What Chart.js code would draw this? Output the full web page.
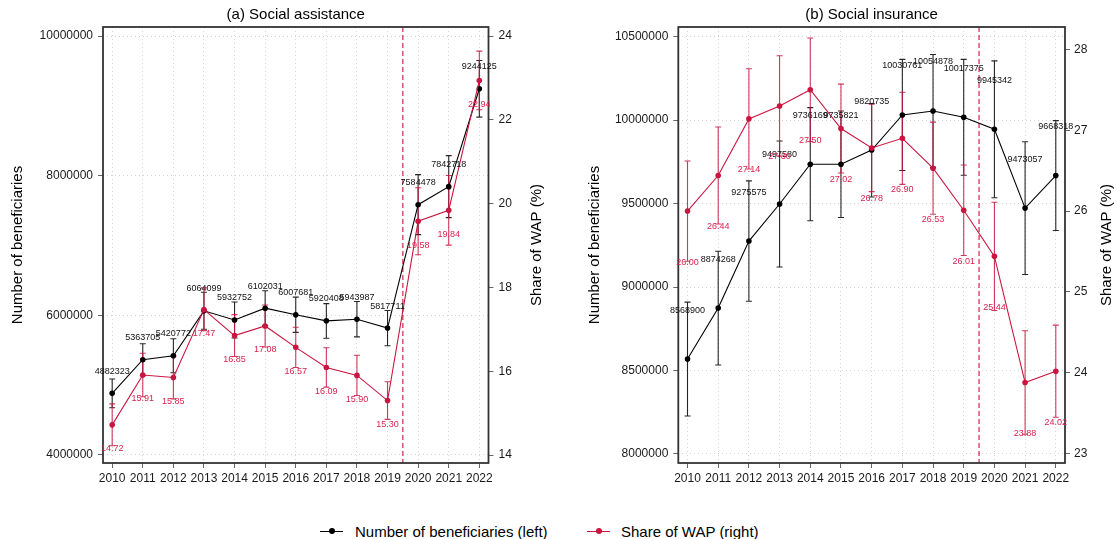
<!DOCTYPE html>
<html>
<head>
<meta charset="utf-8">
<script src="https://cdn.jsdelivr.net/npm/chart.js@4.4.1/dist/chart.umd.min.js"></script>
<style>
  html, body { margin:0; padding:0; background:#fff; }
  body { width:1117px; height:539px; position:relative; overflow:hidden; font-family:"Liberation Sans", Arial, sans-serif; }
  canvas { position:absolute; top:0; }
  #assist { left:0; }
  #insure { left:558px; }
  .leg { position:absolute; top:521px; height:21px; line-height:21px; font-size:15px; color:#000; white-space:nowrap; }
  .leg .sym { position:absolute; left:0; top:10px; width:23px; height:0; border-top:1.3px solid; }
  .leg .sym::after { content:''; position:absolute; left:8.5px; top:-3.8px; width:6px; height:6px; border-radius:50%; background:currentColor; }
  .leg span.txt { position:absolute; left:35px; top:0; }
</style>
</head>
<body>
<canvas id="assist" width="558" height="490"></canvas>
<canvas id="insure" width="559" height="490"></canvas>
<div class="leg" style="left:320px;color:#000"><div class="sym"></div><span class="txt">Number of beneficiaries (left)</span></div>
<div class="leg" style="left:587px;color:#C9153F"><div class="sym"></div><span class="txt" style="color:#000;left:34px">Share of WAP (right)</span></div>
<script>
// data
const years = [2010,2011,2012,2013,2014,2015,2016,2017,2018,2019,2020,2021,2022];

// (a) social assistance
const assistCount     = [4882323,5363705,5420772,6064099,5932752,6102031,6007681,5920408,5943987,5817711,7584478,7842718,9244125];
const assistCountLow  = [4677000,5135000,5178000,5800000,5675000,5853000,5755000,5672000,5691000,5565000,7155000,7399000,8838000];
const assistCountHigh = [5087000,5593000,5664000,6330000,6190000,6351000,6260000,6168000,6197000,6070000,8015000,8287000,9650000];
const assistShare     = [14.72,15.91,15.85,17.47,16.85,17.08,16.57,16.09,15.90,15.30,19.58,19.84,22.94];
const assistShareLow  = [14.22,15.39,15.34,16.97,16.35,16.58,16.09,15.62,15.42,14.85,18.78,19.01,22.24];
const assistShareHigh = [15.22,16.43,16.36,17.99,17.35,17.58,17.05,16.56,16.38,15.75,20.38,20.67,23.64];
const assistCountTicks = [4000000,6000000,8000000,10000000];
const assistShareTicks = [14,16,18,20,22,24];

// (b) social insurance
const insureCount     = [8568900,8874268,9275575,9497580,9736169,9735821,9820735,10030761,10054878,10017375,9945342,9473057,9668318];
const insureCountLow  = [8228000,8533000,8915000,9120000,9397000,9417000,9540000,9698000,9717000,9670000,9535000,9075000,9339000];
const insureCountHigh = [8910000,9215000,9636000,9875000,10075000,10055000,10100000,10364000,10393000,10364000,10355000,9871000,9997000];
const insureShare     = [26.00,26.44,27.14,27.30,27.50,27.02,26.78,26.90,26.53,26.01,25.44,23.88,24.02];
const insureShareLow  = [25.38,25.84,26.52,26.68,26.86,26.47,26.24,26.33,25.96,25.45,24.77,23.24,23.45];
const insureShareHigh = [26.62,27.04,27.76,27.92,28.14,27.57,27.32,27.47,27.10,26.57,26.11,24.52,24.59];
const insureCountTicks = [8000000,8500000,9000000,9500000,10000000,10500000];
const insureShareTicks = [23,24,25,26,27,28];

const policyBreak = 2019.5;

const FONT = '"Liberation Sans", Arial, sans-serif';
const BLACK = '#000000';
const RED = '#C9153F';

// error bars, break line, frame, value labels and titles
const extras = {
  id: 'extras',
  beforeDatasetsDraw(chart, args, o){
    const ctx = chart.ctx, a = chart.chartArea, xs = chart.scales.x;
    const bx = xs.getPixelForValue(policyBreak);
    ctx.save();
    ctx.strokeStyle = 'rgba(201,21,63,0.8)'; ctx.lineWidth = 1.4; ctx.setLineDash([5,3]);
    ctx.beginPath(); ctx.moveTo(bx, a.top); ctx.lineTo(bx, a.bottom); ctx.stroke();
    ctx.setLineDash([]);
    o.bars.forEach(b=>{
      const ys = chart.scales[b.axis];
      ctx.strokeStyle = b.color; ctx.lineWidth = 1.1;
      years.forEach((yr,i)=>{
        const x = xs.getPixelForValue(yr), y0 = ys.getPixelForValue(b.low[i]), y1 = ys.getPixelForValue(b.high[i]);
        ctx.beginPath();
        ctx.moveTo(x, y0); ctx.lineTo(x, y1);
        ctx.moveTo(x-3, y0); ctx.lineTo(x+3, y0);
        ctx.moveTo(x-3, y1); ctx.lineTo(x+3, y1);
        ctx.stroke();
      });
    });
    ctx.restore();
  },
  afterDatasetsDraw(chart, args, o){
    const ctx = chart.ctx, a = chart.chartArea, xs = chart.scales.x;
    ctx.save();
    ctx.strokeStyle = '#333'; ctx.lineWidth = 1.8;
    ctx.strokeRect(a.left, a.top, a.right-a.left, a.bottom-a.top);
    ctx.font = '9px ' + FONT; ctx.textAlign = 'center'; ctx.textBaseline = 'middle';
    o.labels.forEach(l=>{
      const ys = chart.scales[l.axis];
      ctx.fillStyle = l.color;
      l.values.forEach((v,i)=>{
        ctx.fillText(l.fmt(v), xs.getPixelForValue(years[i]), ys.getPixelForValue(v) + l.shift);
      });
    });
    // panel title
    ctx.fillStyle = '#000'; ctx.font = '15px ' + FONT;
    ctx.fillText(o.title, (a.left+a.right)/2, 15);
    // axis titles, both read bottom to top
    const cy = (a.top+a.bottom)/2;
    [[a.left - o.leftGap, 'Number of beneficiaries'], [a.right + o.rightGap, 'Share of WAP (%)']].forEach(t=>{
      ctx.save(); ctx.translate(t[0], cy); ctx.rotate(-Math.PI/2);
      ctx.fillText(t[1], 0, 0); ctx.restore();
    });
    ctx.restore();
  }
};

function tickOpts(){ return { font:{size:12, family:FONT}, color:'#1a1a1a', callback: v => String(v), autoSkip:false, maxRotation:0 }; }

function makeChart(id, p){
  const pts = arr => years.map((x,i)=>({x:x, y:arr[i]}));
  const line = { borderWidth:1.1, pointRadius:2.8, pointBorderWidth:0, tension:0 };
  return new Chart(document.getElementById(id), {
    type: 'line',
    data: { datasets: [
      Object.assign({ label:'Number of beneficiaries (left)', data:pts(p.count), yAxisID:'y', borderColor:BLACK, backgroundColor:BLACK, order:2 }, line),
      Object.assign({ label:'Share of WAP (right)', data:pts(p.share), yAxisID:'y1', borderColor:RED, backgroundColor:RED, order:1 }, line)
    ]},
    options: {
      responsive:false, animation:false,
      layout:{ padding:{ top:27, left:0, right:0, bottom:0 } },
      plugins:{
        legend:{display:false}, tooltip:{enabled:false},
        extras:{
          title:p.title, leftGap:p.leftGap, rightGap:p.rightGap,
          bars:[
            { axis:'y', low:p.countLow, high:p.countHigh, color:'rgba(0,0,0,0.85)' },
            { axis:'y1', low:p.shareLow, high:p.shareHigh, color:'rgba(201,21,63,0.85)' }
          ],
          labels:[
            { axis:'y', values:p.count, color:'#111', shift:p.countShift, fmt: v => String(v) },
            { axis:'y1', values:p.share, color:'#D8224F', shift:p.shareShift, fmt: v => v.toFixed(2) }
          ]
        }
      },
      scales:{
        x:{ type:'linear', min:2009.7, max:2022.3,
            afterBuildTicks: s => { s.ticks = years.map(v=>({value:v})); },
            afterFit: s => { s.height = 490 - 463; },
            ticks: Object.assign(tickOpts(), {padding:3}),
            grid:{ color:'#cfcfcf', lineWidth:0.9, tickLength:5, tickColor:'#666', tickWidth:1, tickBorderDash:[] },
            border:{ display:false, dash:[1,3] } },
        y:{ position:'left', min:p.countMin, max:p.countMax,
            afterBuildTicks: s => { s.ticks = p.countTicks.map(v=>({value:v})); },
            afterFit: s => { s.width = p.leftW; },
            ticks: Object.assign(tickOpts(), {padding:5}),
            grid:{ color:'#cfcfcf', lineWidth:0.9, tickLength:5, tickColor:'#666', tickWidth:1, tickBorderDash:[] },
            border:{ display:false, dash:[1,3] } },
        y1:{ position:'right', min:p.shareMin, max:p.shareMax,
            afterBuildTicks: s => { s.ticks = p.shareTicks.map(v=>({value:v})); },
            afterFit: s => { s.width = p.rightW; },
            ticks: Object.assign(tickOpts(), {padding:p.rightPad}),
            grid:{ drawOnChartArea:false, tickLength:5, tickColor:'#666', tickWidth:1, tickBorderDash:[] },
            border:{ display:false } }
      }
    },
    plugins:[extras]
  });
}

makeChart('assist', {
  title:'(a) Social assistance',
  count:assistCount, countLow:assistCountLow, countHigh:assistCountHigh, countTicks:assistCountTicks,
  share:assistShare, shareLow:assistShareLow, shareHigh:assistShareHigh, shareTicks:assistShareTicks,
  countMin:3885000, countMax:10129000, shareMin:13.81, shareMax:24.215,
  leftW:103, rightW:558-488.5, rightPad:5, leftGap:85.5, rightGap:48,
  countShift:-22, shareShift:24
});

makeChart('insure', {
  title:'(b) Social insurance',
  count:insureCount, countLow:insureCountLow, countHigh:insureCountHigh, countTicks:insureCountTicks,
  share:insureShare, shareLow:insureShareLow, shareHigh:insureShareHigh, shareTicks:insureShareTicks,
  countMin:7946000, countMax:10558000, shareMin:22.885, shareMax:28.276,
  leftW:678.3-558, rightW:559-(1065-558), rightPad:4, leftGap:83.5, rightGap:42,
  countShift:-49, shareShift:51
});
</script>
</body>
</html>
